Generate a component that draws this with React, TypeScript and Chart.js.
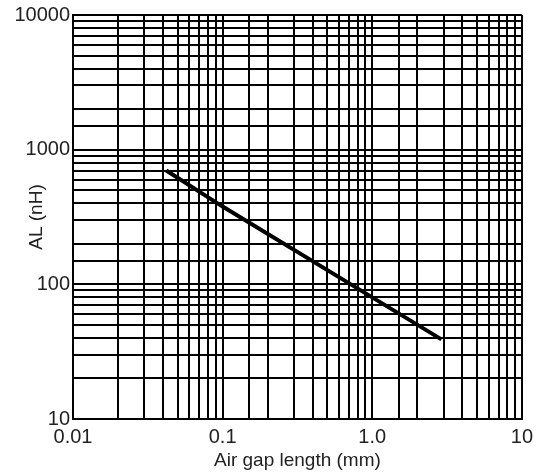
import React, { useEffect, useRef } from "react";
import { Chart, registerables } from "chart.js";

Chart.register(...registerables);

const airGap: number[] = [0.042, 0.1, 1.0, 2.9];
const alValues: number[] = [700, 378, 80, 39];

const xTickLabels: Record<string, string> = { "-2": "0.01", "-1": "0.1", "0": "1.0", "1": "10" };
const yTickLabels: Record<string, string> = { "1": "10", "2": "100", "3": "1000", "4": "10000" };

const FONT = "'Liberation Sans', Arial, sans-serif";

function decadeLabel(v: number, map: Record<string, string>): string {
  const l = Math.log10(v);
  const r = Math.round(l);
  if (Math.abs(l - r) < 1e-6) return map[String(r)] ?? "";
  return "";
}

export default function App() {
  const ref = useRef<HTMLCanvasElement | null>(null);
  useEffect(() => {
    document.body.style.margin = "0";
    if (!ref.current) return;
    const chart = new Chart(ref.current, {
      type: "line",
      data: {
        datasets: [
          {
            data: airGap.map((x, i) => ({ x, y: alValues[i] })),
            borderColor: "#000",
            borderWidth: 4,
            pointRadius: 0,
            fill: false,
            tension: 0,
          },
        ],
      },
      options: {
        animation: false,
        responsive: false,
        devicePixelRatio: 1,
        layout: { padding: { left: 0, top: 15, right: 16, bottom: 0 } },
        plugins: { legend: { display: false }, tooltip: { enabled: false } },
        scales: {
          x: {
            type: "logarithmic",
            min: 0.01,
            max: 10,
            afterFit: (s: any) => {
              s.height = 55;
            },
            grid: { color: "#000", lineWidth: 2, drawTicks: false },
            border: { color: "#000", width: 2 },
            ticks: {
              autoSkip: false,
              maxRotation: 0,
              padding: 6,
              color: "#222",
              font: { family: FONT, size: 20 },
              callback: (v: any) => decadeLabel(Number(v), xTickLabels),
            },
            title: {
              display: true,
              text: "Air gap length (mm)",
              color: "#222",
              font: { family: FONT, size: 19 },
              padding: { top: 0, bottom: 2 },
            },
          },
          y: {
            type: "logarithmic",
            min: 10,
            max: 10000,
            afterFit: (s: any) => {
              s.width = 73;
            },
            grid: { color: "#000", lineWidth: 2, drawTicks: false },
            border: { color: "#000", width: 2 },
            ticks: {
              autoSkip: false,
              padding: 3,
              color: "#222",
              font: { family: FONT, size: 20 },
              callback: (v: any) => decadeLabel(Number(v), yTickLabels),
            },
            title: {
              display: true,
              text: "AL (nH)",
              color: "#222",
              font: { family: FONT, size: 19 },
              padding: { top: 25, bottom: 0 },
            },
          },
        },
      },
    });
    return () => chart.destroy();
  }, []);
  return (
    <div style={{ position: "absolute", left: 0, top: 0, width: 539, height: 474, background: "#fff" }}>
      <canvas ref={ref} width={539} height={474} style={{ width: 539, height: 474 }} />
    </div>
  );
}
